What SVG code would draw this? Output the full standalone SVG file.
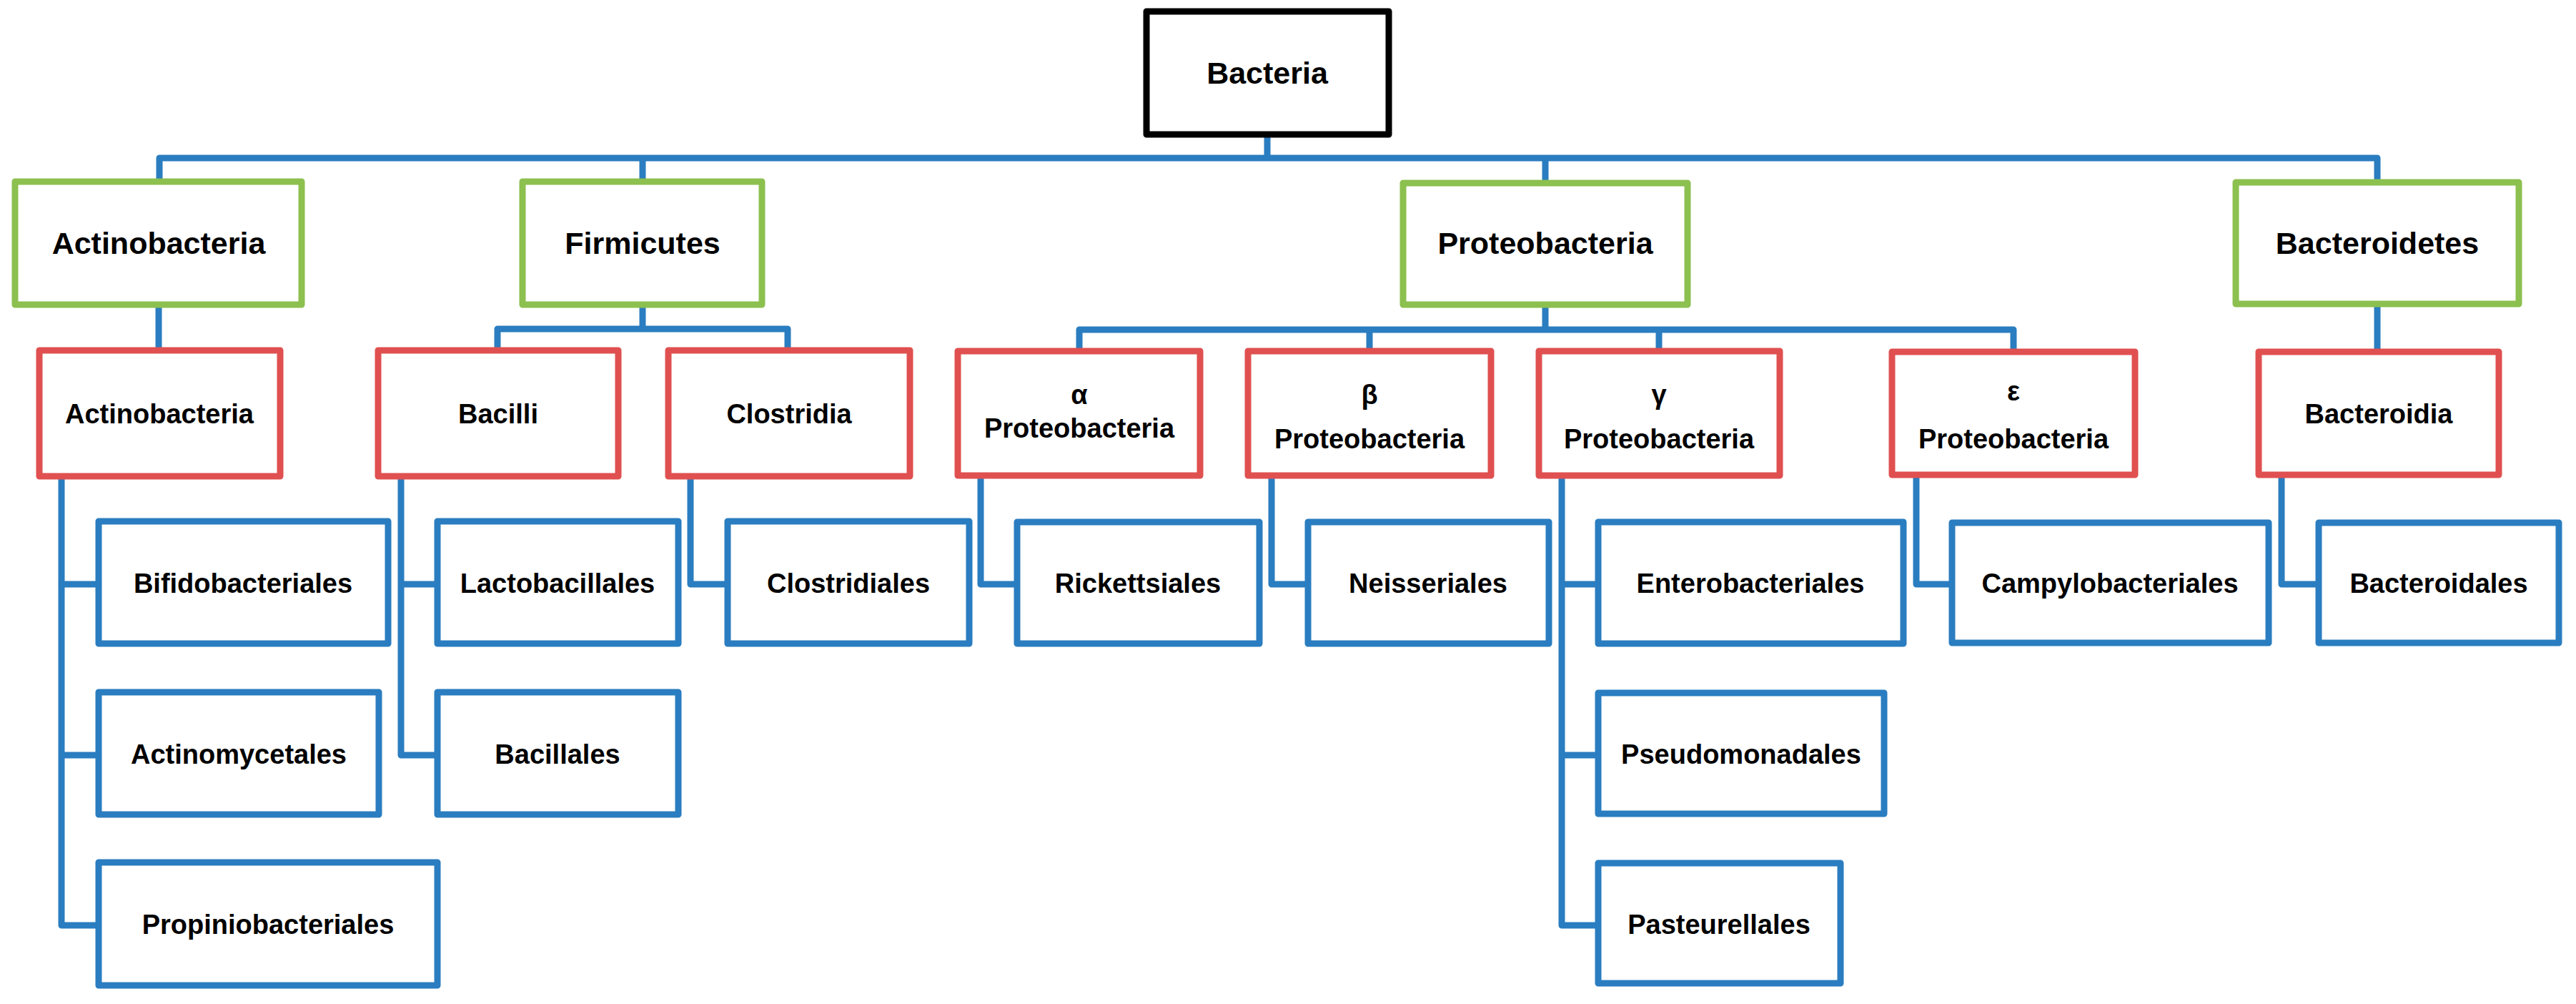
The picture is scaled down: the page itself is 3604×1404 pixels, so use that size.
<svg xmlns="http://www.w3.org/2000/svg" width="3604" height="1404" viewBox="0 0 3604 1404">
<style>
rect{fill:#fff;stroke-width:9;stroke-linejoin:round}
.k{stroke:#000}.g{stroke:#8cc04f}.r{stroke:#e05050}.b{stroke:#2a7dc0}
text{font-family:"Liberation Sans",Arial,sans-serif;font-weight:bold;fill:#000;text-anchor:middle;font-size:38px}
.big{font-size:43px}
#connectors path{fill:none;stroke:#2a7dc0;stroke-width:9;stroke-linejoin:round}
</style>
<g id="connectors">
<path d="M1773 188V221M223 254V221H3326V255M899 221V254M2162 221V256"/>
<path d="M222 426V490"/>
<path d="M899 426V460M696 490V460H1102V490"/>
<path d="M2162 426V461M1510 491V461H2817V492M1916 461V491M2321 461V491"/>
<path d="M3326 425V492"/>
<path d="M86 666V1294H138M86 817H138M86 1056H138"/>
<path d="M561 666V1056H612M561 817H612"/>
<path d="M966 666V817H1018"/>
<path d="M1372 665V817H1423"/>
<path d="M1779 665V817H1830"/>
<path d="M2185 665V1294H2236M2185 817H2236M2185 1056H2236"/>
<path d="M2681 664V817H2731"/>
<path d="M3192 664V817H3244"/>
</g>
<g id="n-bacteria"><rect class="k" x="1604" y="16" width="339" height="172"/><text class="big" x="1773" y="117">Bacteria</text></g>
<g id="n-actinobacteria-phylum"><rect class="g" x="21" y="254" width="401" height="172"/><text class="big" x="222" y="355">Actinobacteria</text></g>
<g id="n-firmicutes"><rect class="g" x="731" y="254" width="335" height="172"/><text class="big" x="899" y="355">Firmicutes</text></g>
<g id="n-proteobacteria"><rect class="g" x="1963" y="256" width="398" height="170"/><text class="big" x="2162" y="355">Proteobacteria</text></g>
<g id="n-bacteroidetes"><rect class="g" x="3128" y="255" width="396" height="170"/><text class="big" x="3326" y="355">Bacteroidetes</text></g>
<g id="n-actinobacteria-class"><rect class="r" x="55" y="490" width="337" height="176"/><text x="223" y="592">Actinobacteria</text></g>
<g id="n-bacilli"><rect class="r" x="529" y="490" width="336" height="176"/><text x="697" y="592">Bacilli</text></g>
<g id="n-clostridia"><rect class="r" x="935" y="490" width="338" height="176"/><text x="1104" y="592">Clostridia</text></g>
<g id="n-alpha"><rect class="r" x="1340" y="491" width="339" height="174"/><text x="1510" y="565">α</text><text x="1510" y="612">Proteobacteria</text></g>
<g id="n-beta"><rect class="r" x="1746" y="491" width="340" height="174"/><text x="1916" y="565">β</text><text x="1916" y="627">Proteobacteria</text></g>
<g id="n-gamma"><rect class="r" x="2153" y="491" width="337" height="174"/><text x="2321" y="565">γ</text><text x="2321" y="627">Proteobacteria</text></g>
<g id="n-epsilon"><rect class="r" x="2647" y="492" width="340" height="172"/><text x="2817" y="560">ε</text><text x="2817" y="627">Proteobacteria</text></g>
<g id="n-bacteroidia"><rect class="r" x="3160" y="492" width="336" height="172"/><text x="3328" y="592">Bacteroidia</text></g>
<g id="n-bifidobacteriales"><rect class="b" x="138" y="729" width="405" height="171"/><text x="340" y="829">Bifidobacteriales</text></g>
<g id="n-actinomycetales"><rect class="b" x="138" y="968" width="392" height="171"/><text x="334" y="1068">Actinomycetales</text></g>
<g id="n-propiniobacteriales"><rect class="b" x="138" y="1206" width="474" height="172"/><text x="375" y="1306">Propiniobacteriales</text></g>
<g id="n-lactobacillales"><rect class="b" x="612" y="729" width="337" height="171"/><text x="780" y="829">Lactobacillales</text></g>
<g id="n-bacillales"><rect class="b" x="612" y="968" width="337" height="171"/><text x="780" y="1068">Bacillales</text></g>
<g id="n-clostridiales"><rect class="b" x="1018" y="729" width="338" height="171"/><text x="1187" y="829">Clostridiales</text></g>
<g id="n-rickettsiales"><rect class="b" x="1423" y="730" width="339" height="170"/><text x="1592" y="829">Rickettsiales</text></g>
<g id="n-neisseriales"><rect class="b" x="1830" y="730" width="337" height="170"/><text x="1998" y="829">Neisseriales</text></g>
<g id="n-enterobacteriales"><rect class="b" x="2236" y="730" width="427" height="170"/><text x="2449" y="829">Enterobacteriales</text></g>
<g id="n-pseudomonadales"><rect class="b" x="2236" y="969" width="400" height="169"/><text x="2436" y="1068">Pseudomonadales</text></g>
<g id="n-pasteurellales"><rect class="b" x="2236" y="1207" width="339" height="168"/><text x="2405" y="1306">Pasteurellales</text></g>
<g id="n-campylobacteriales"><rect class="b" x="2731" y="731" width="443" height="168"/><text x="2952" y="829">Campylobacteriales</text></g>
<g id="n-bacteroidales"><rect class="b" x="3244" y="731" width="336" height="168"/><text x="3412" y="829">Bacteroidales</text></g>
</svg>
